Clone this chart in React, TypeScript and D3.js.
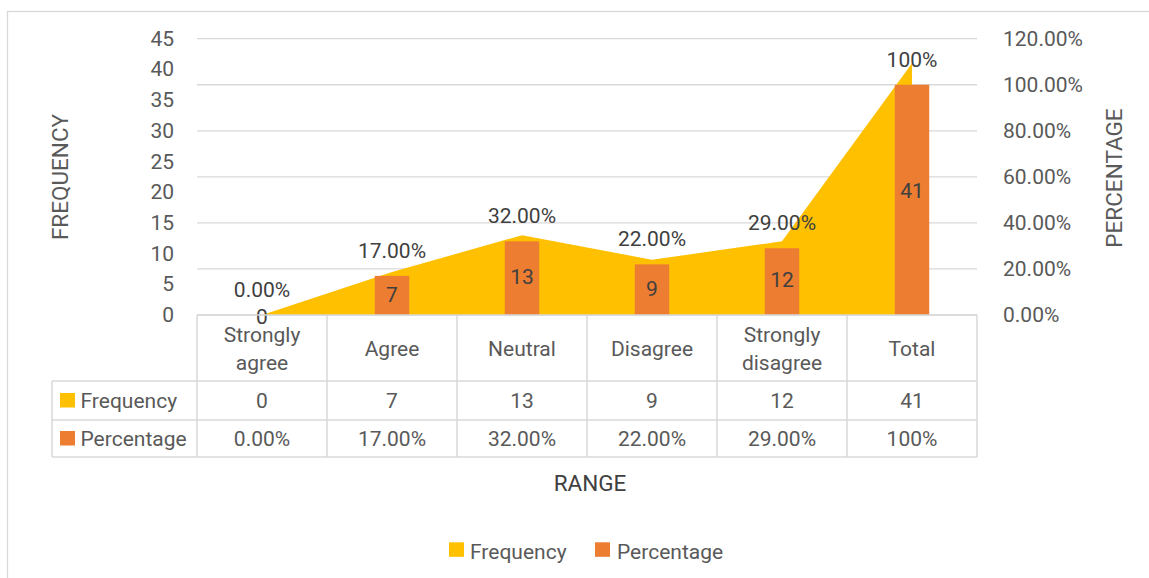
import React from "react";
import * as d3 from "d3";

const categories = ["Strongly agree", "Agree", "Neutral", "Disagree", "Strongly disagree", "Total"];
const frequency = [0, 7, 13, 9, 12, 41];
const percentage = [0, 17, 32, 22, 29, 100];
const percentageLabels = ["0.00%", "17.00%", "32.00%", "22.00%", "29.00%", "100%"];
const leftTicks = [0, 5, 10, 15, 20, 25, 30, 35, 40, 45];
const rightTicks = [0, 20, 40, 60, 80, 100, 120];
const seriesNames = ["Frequency", "Percentage"];

const W = 1149;
const H = 578;
const PL = 197, PR = 977, PT = 38.7, PB = 315;
const FONT = "Roboto, 'Open Sans', sans-serif";
const FS = 21;
const TFS = 22.5;
const YELLOW = "#FFC000";
const ORANGE = "#ED7D31";
const GRID = "#D9D9D9";
const TXT = "#595959";
const DARK = "#404040";

export default function App() {
  const x = d3.scaleBand<string>().domain(categories).range([PL, PR]);
  const yL = d3.scaleLinear().domain([0, 45]).range([PB, PT]);
  const yR = d3.scaleLinear().domain([0, 120]).range([PB, PT]);
  const cx = (c: string) => (x(c) as number) + x.bandwidth() / 2;
  const barW = x.bandwidth() * 0.265;

  const area = d3
    .area<number>()
    .x((_, i) => cx(categories[i]))
    .y0(yL(0))
    .y1((d) => yL(d));

  const tableLeft = 52;
  const rowTop = PB;
  const row1 = 381;
  const row2 = 420;
  const row3 = 457;
  const tableRows = [
    { name: seriesNames[0], color: YELLOW, vals: frequency.map((v) => String(v)), y0: row1, y1: row2 },
    { name: seriesNames[1], color: ORANGE, vals: percentageLabels, y0: row2, y1: row3 },
  ];

  return (
    <svg width={W} height={H} style={{ position: "absolute", left: 0, top: 0, background: "#fff" }} fontFamily={FONT}>
      <rect x={0} y={0} width={W} height={H} fill="#fff" />
      <rect x={7.5} y={11.5} width={W + 20} height={H + 20} fill="none" stroke={GRID} strokeWidth={1.3} />

      {/* gridlines */}
      {rightTicks.map((t) => (
        <line key={"g" + t} x1={PL} x2={PR} y1={yR(t)} y2={yR(t)} stroke={GRID} strokeWidth={1.3} />
      ))}

      {/* area (frequency) */}
      <path d={area(frequency) || ""} fill={YELLOW} />

      {/* bars (percentage) */}
      {percentage.map((p, i) => (
        <rect
          key={"b" + i}
          x={cx(categories[i]) - barW / 2}
          y={yR(p)}
          width={barW}
          height={yR(0) - yR(p)}
          fill={ORANGE}
        />
      ))}

      {/* left ticks */}
      {leftTicks.map((t) => (
        <text key={"l" + t} x={174} y={yL(t)} textAnchor="end" dominantBaseline="central" fontSize={FS} fill={TXT}>
          {t}
        </text>
      ))}
      {/* right ticks */}
      {rightTicks.map((t) => (
        <text key={"r" + t} x={1003} y={yR(t)} textAnchor="start" dominantBaseline="central" fontSize={FS} fill={TXT}>
          {t.toFixed(2) + "%"}
        </text>
      ))}

      {/* axis titles */}
      <text transform={`translate(60,177) rotate(-90)`} textAnchor="middle" dominantBaseline="central" fontSize={TFS} fill={TXT}>
        FREQUENCY
      </text>
      <text transform={`translate(1114,178) rotate(-90)`} textAnchor="middle" dominantBaseline="central" fontSize={TFS} fill={TXT}>
        PERCENTAGE
      </text>
      <text x={590} y={483} textAnchor="middle" dominantBaseline="central" fontSize={TFS} fill={DARK}>
        RANGE
      </text>

      {/* data labels: percentage above bars */}
      {percentage.map((p, i) => (
        <text key={"pl" + i} x={cx(categories[i])} y={yR(p) - 25} textAnchor="middle" dominantBaseline="central" fontSize={FS} fill={DARK}>
          {percentageLabels[i]}
        </text>
      ))}
      {/* data labels: frequency at area middle */}
      {frequency.map((f, i) => (
        <text key={"fl" + i} x={cx(categories[i])} y={(yL(f) + yL(0)) / 2 + 1.5} textAnchor="middle" dominantBaseline="central" fontSize={FS} fill={DARK}>
          {f}
        </text>
      ))}

      {/* data table */}
      <g stroke={GRID} strokeWidth={1.5} fill="none">
        <line x1={PL} x2={PR} y1={rowTop} y2={rowTop} />
        <line x1={tableLeft} x2={PR} y1={row1} y2={row1} />
        <line x1={tableLeft} x2={PR} y1={row2} y2={row2} />
        <line x1={tableLeft} x2={PR} y1={row3} y2={row3} />
        <line x1={tableLeft} x2={tableLeft} y1={row1} y2={row3} />
        {categories.map((c) => (
          <line key={"v" + c} x1={x(c) as number} x2={x(c) as number} y1={rowTop} y2={row3} />
        ))}
        <line x1={PR} x2={PR} y1={rowTop} y2={row3} />
      </g>
      {categories.map((c) => {
        const parts = c.split(" ");
        const lines = parts.length > 1 ? [parts[0], parts.slice(1).join(" ")] : [c];
        const mid = (rowTop + row1) / 2 + 1;
        return lines.map((ln, j) => (
          <text
            key={"h" + c + j}
            x={cx(c)}
            y={mid + (j - (lines.length - 1) / 2) * 28.5}
            textAnchor="middle"
            dominantBaseline="central"
            fontSize={FS}
            fill={TXT}
          >
            {ln}
          </text>
        ));
      })}
      {tableRows.map((r) => (
        <g key={"row" + r.name}>
          <rect x={60} y={(r.y0 + r.y1) / 2 - 7.5} width={15} height={14.5} fill={r.color} />
          <text x={80.5} y={(r.y0 + r.y1) / 2} dominantBaseline="central" fontSize={FS} fill={TXT}>
            {r.name}
          </text>
          {r.vals.map((v, i) => (
            <text key={i} x={cx(categories[i])} y={(r.y0 + r.y1) / 2} textAnchor="middle" dominantBaseline="central" fontSize={FS} fill={TXT}>
              {v}
            </text>
          ))}
        </g>
      ))}

      {/* legend */}
      <rect x={449} y={542.3} width={15} height={14.5} fill={YELLOW} />
      <text x={470} y={551.5} dominantBaseline="central" fontSize={FS} fill={TXT}>
        {seriesNames[0]}
      </text>
      <rect x={595} y={542.3} width={15} height={14.5} fill={ORANGE} />
      <text x={617} y={551.5} dominantBaseline="central" fontSize={FS} fill={TXT}>
        {seriesNames[1]}
      </text>
    </svg>
  );
}
